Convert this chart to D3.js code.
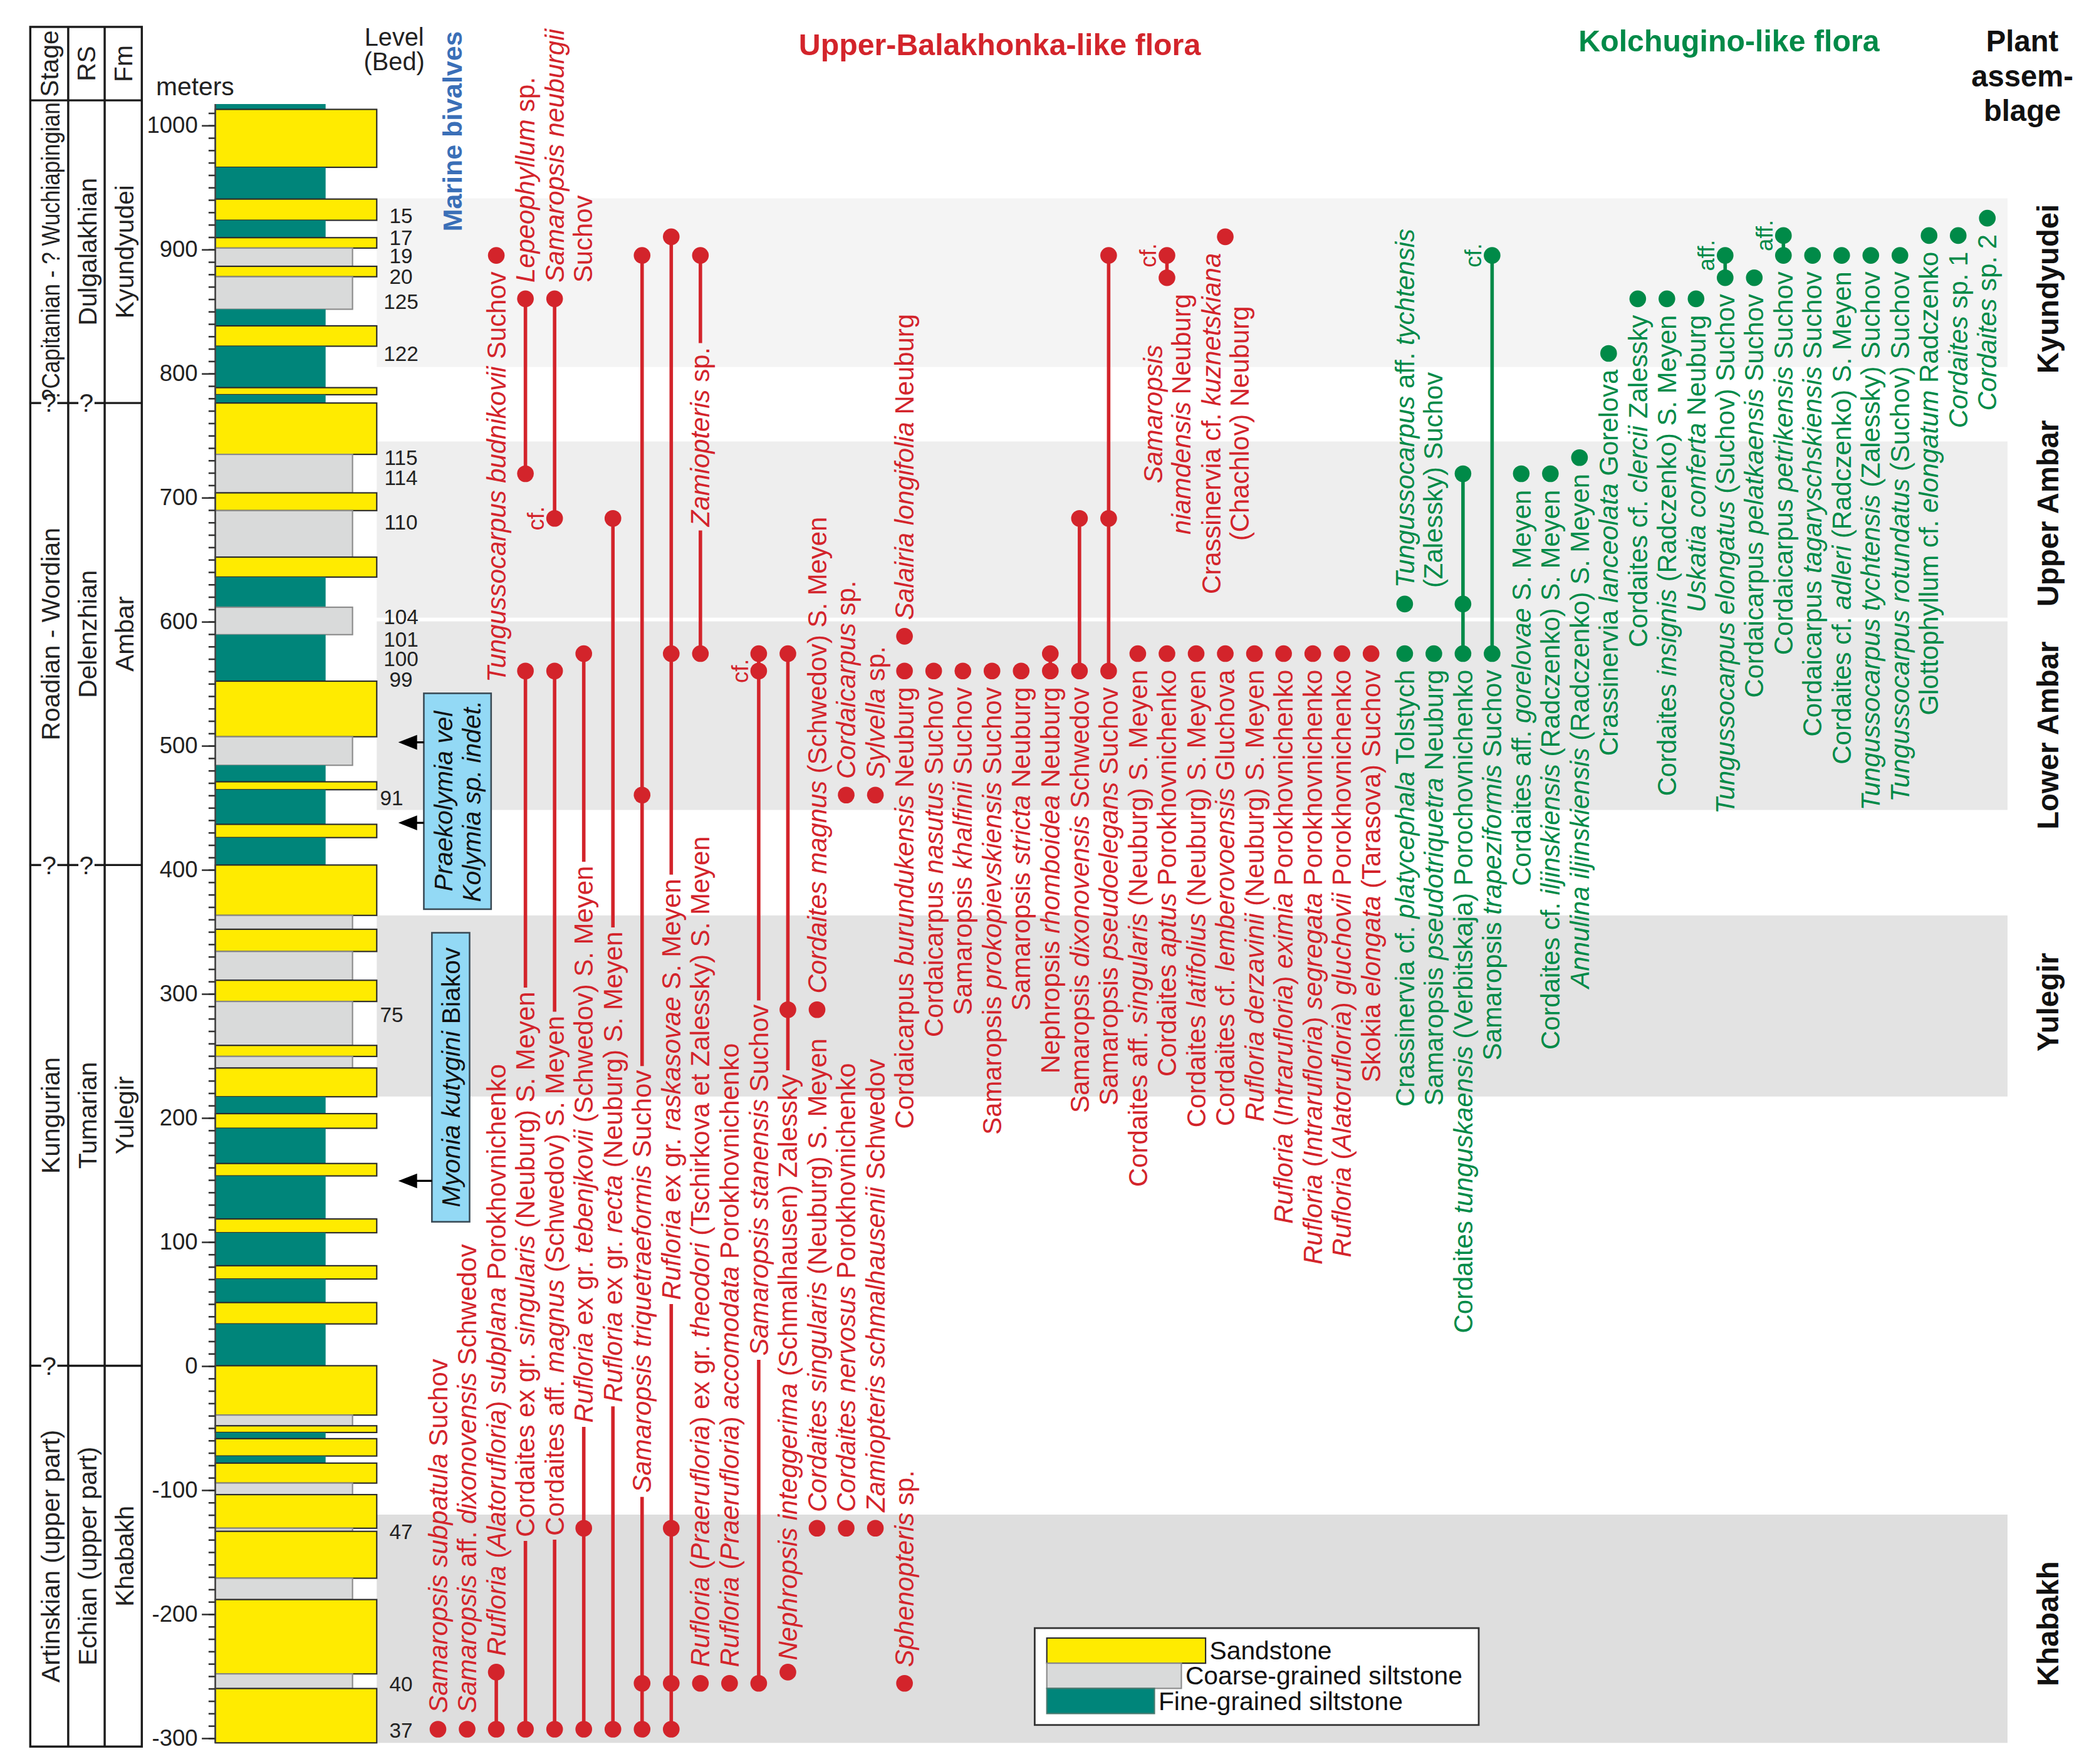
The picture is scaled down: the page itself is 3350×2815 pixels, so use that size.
<!DOCTYPE html>
<html>
<head>
<meta charset="utf-8">
<script src="https://cdn.jsdelivr.net/npm/d3@7"></script>
<style>
  html, body { margin: 0; padding: 0; background: #fff; }
  svg { display: block; font-family: "Liberation Sans", Arial, sans-serif; }
</style>
</head>
<body>
<div id="chart"></div>
<script>
'use strict'

// ---------------- data ----------------

// depth axis (metres)
const depthLabels = d3.range(-300, 1001, 100)
const depthMinor = d3.range(-300, 1011, 10)

// lithology: [top, base, type]  S = sandstone, C = coarse siltstone, F = fine siltstone
const lithology = [
  [1017, 1012.7, 'F'], [1012.7, 966, 'S'], [966, 940.4, 'F'], [940.4, 923.3, 'S'],
  [923.3, 909.3, 'F'], [909.3, 900.9, 'S'], [900.9, 886.2, 'C'], [886.2, 877.8, 'S'],
  [877.8, 851.6, 'C'], [851.6, 838.2, 'F'], [838.2, 821.8, 'S'], [821.8, 788.4, 'F'],
  [788.4, 782.7, 'S'], [782.7, 776, 'F'], [776, 734.6, 'S'], [734.6, 703.6, 'C'],
  [703.6, 689.3, 'S'], [689.3, 651.8, 'C'], [651.8, 635.7, 'S'], [635.7, 611.4, 'F'],
  [611.4, 589.3, 'C'], [589.3, 551.8, 'F'], [551.8, 507, 'S'], [507, 484, 'C'],
  [484, 470.7, 'F'], [470.7, 464.3, 'S'], [464.3, 436.4, 'F'], [436.4, 425.7, 'S'],
  [425.7, 403.6, 'F'], [403.6, 363, 'S'], [363, 351.8, 'C'], [351.8, 333.9, 'S'],
  [333.9, 310.7, 'C'], [310.7, 293.6, 'S'], [293.6, 258.2, 'C'], [258.2, 249.3, 'S'],
  [249.3, 240, 'C'], [240, 216.8, 'S'], [216.8, 203.2, 'F'], [203.2, 191.4, 'S'],
  [191.4, 163, 'F'], [163, 153, 'S'], [153, 118.3, 'F'], [118.3, 107.2, 'S'],
  [107.2, 80.6, 'F'], [80.6, 69.9, 'S'], [69.9, 50.9, 'F'], [50.9, 33.7, 'S'],
  [33.7, 0, 'F'], [0, -39.8, 'S'], [-39.8, -48.4, 'C'], [-48.4, -53.8, 'S'],
  [-53.8, -58.8, 'F'], [-58.8, -72.8, 'S'], [-72.8, -78.5, 'F'], [-78.5, -94.6, 'S'],
  [-94.6, -103.9, 'C'], [-103.9, -131, 'S'], [-131, -133.5, 'C'], [-133.5, -171.3, 'S'],
  [-171.3, -188.5, 'C'], [-188.5, -248.4, 'S'], [-248.4, -260.2, 'C'], [-260.2, -304, 'S']
]
const lithoCodes = ['S', 'C', 'F']
const lithoNames = ['Sandstone', 'Coarse-grained siltstone', 'Fine-grained siltstone']

// beds (levels)
const beds = ['15', '17', '19', '20', '125', '122', '115', '114', '110', '104', '101', '100', '99', '91', '75', '47', '40', '37']
const bedDepths = [926.7, 909.3, 894.4, 877.8, 857.8, 815.6, 732, 716, 680, 603.6, 585.7, 569.6, 552.9, 457.9, 282.9, -133.7, -256.6, -293.9]

// plant assemblages
const assemblages = ['Kyundyudei', 'Upper Ambar', 'Lower Ambar', 'Yulegir', 'Khabakh']
const assemblageTop = [941, 745, 600, 363, -120]
const assemblageBase = [805, 603, 448, 217, -304]
const assemblageLabelAt = [868, 687, 508, 293, -208]

// stratigraphic units (Stage / RS / Fm), bounded by unitBounds
const stages = ['?Capitanian - ? Wuchiapingian', 'Roadian - Wordian', 'Kungurian', 'Artinskian (upper part)']
const regionalStages = ['Dulgalakhian', 'Delenzhian', 'Tumarian', 'Echian (upper part)']
const formations = ['Kyundyudei', 'Ambar', 'Yulegir', 'Khabakh']
const unitBounds = [1020, 776, 403.6, 0, -307]
// uncertain ("?") boundaries per inner bound, for Stage / RS / Fm
const boundaryQuery = [[true, true, false], [true, true, false], [true, false, false]]

// Upper-Balakhonka-like flora: [name (*italic*), column, levels, label]
const redTaxa = [
  ['*Samaropsis subpatula* Suchov', 0, [-293], 'up'],
  ['*Samaropsis* aff. *dixonovensis* Schwedov', 1, [-293], 'up'],
  ['*Rufloria* (*Alatorufloria*) *subplana* Porokhovnichenko', 2, [-293, -247], 'up'],
  ['*Tungussocarpus budnikovii* Suchov', 2, [895], 'down'],
  ['Cordaites ex gr. *singularis* (Neuburg) S. Meyen', 3, [-293, 560], 'inline'],
  ['*Lepeophyllum* sp.', 3, [719, 860], 'up'],
  ['Cordaites aff. *magnus* (Schwedov) S. Meyen', 4, [-293, 560], 'inline'],
  ['*Samaropsis neuburgii*\nSuchov', 4, [683, 860], 'up'],
  ['*Rufloria* ex gr. *tebenjkovii* (Schwedov) S. Meyen', 5, [-293, -131, 574], 'inline'],
  ['*Rufloria* ex gr. *recta* (Neuburg) S. Meyen', 6, [-293, 683], 'inline'],
  ['*Samaropsis triquetraeformis* Suchov', 7, [-293, -256, 460, 895], 'inline'],
  ['*Rufloria* ex gr. *raskasovae* S. Meyen', 8, [-293, -256, -131, 574, 910], 'inline'],
  ['*Rufloria* (*Praerufloria*) ex gr. *theodori* (Tschirkova et Zalessky) S. Meyen', 9, [-256], 'up'],
  ['*Zamiopteris* sp.', 9, [574, 895], 'inline'],
  ['*Rufloria* (*Praerufloria*) *accomodata* Porokhovnichenko', 10, [-256], 'up'],
  ['*Samaropsis stanensis* Suchov', 11, [-256, 560, 574], 'inline'],
  ['*Nephropsis integgerima* (Schmalhausen) Zalessky', 12, [-247, 287, 574], 'inline'],
  ['*Cordaites singularis* (Neuburg) S. Meyen', 13, [-131], 'up'],
  ['*Cordaites magnus* (Schwedov) S. Meyen', 13, [287], 'up'],
  ['*Cordaites nervosus* Porokhovnichenko', 14, [-131], 'up'],
  ['*Cordaicarpus* sp.', 14, [460], 'up'],
  ['*Zamiopteris schmalhausenii* Schwedov', 15, [-131], 'up'],
  ['*Sylvella* sp.', 15, [460], 'up'],
  ['*Sphenopteris* sp.', 16, [-256], 'up'],
  ['Cordaicarpus *burundukensis* Neuburg', 16, [560], 'down'],
  ['*Salairia longifolia* Neuburg', 16, [588], 'up'],
  ['Cordaicarpus *nasutus* Suchov', 17, [560], 'down'],
  ['Samaropsis *khalfinii* Suchov', 18, [560], 'down'],
  ['Samaropsis *prokopievskiensis* Suchov', 19, [560], 'down'],
  ['Samaropsis *stricta* Neuburg', 20, [560], 'down'],
  ['Nephropsis *rhomboidea* Neuburg', 21, [560, 574], 'down'],
  ['Samaropsis *dixonovensis* Schwedov', 22, [560, 683], 'down'],
  ['Samaropsis *pseudoelegans* Suchov', 23, [560, 683, 895], 'down'],
  ['Cordaites aff. *singularis* (Neuburg) S. Meyen', 24, [574], 'down'],
  ['Cordaites *aptus* Porokhovnichenko', 25, [574], 'down'],
  ['*Samaropsis*\n*niamdensis* Neuburg', 25, [877, 895], 'down'],
  ['Cordaites *latifolius* (Neuburg) S. Meyen', 26, [574], 'down'],
  ['Cordaites cf. *lemberovoensis* Gluchova', 27, [574], 'down'],
  ['Crassinervia cf. *kuznetskiana*\n(Chachlov) Neuburg', 27, [910], 'down'],
  ['*Rufloria derzavinii* (Neuburg) S. Meyen', 28, [574], 'down'],
  ['*Rufloria* (*Intrarufloria*) *eximia* Porokhovnichenko', 29, [574], 'down'],
  ['*Rufloria* (*Intrarufloria*) *segregata* Porokhovnichenko', 30, [574], 'down'],
  ['*Rufloria* (*Alatorufloria*) *gluchovii* Porokhovnichenko', 31, [574], 'down'],
  ['Skokia *elongata* (Tarasova) Suchov', 32, [574], 'down']
]

// Kolchugino-like flora
const greenTaxa = [
  ['Crassinervia cf. *platycephala* Tolstych', 33, [574], 'down'],
  ['*Tungussocarpus* aff. *tychtensis*\n(Zalessky) Suchov', 33, [614], 'up'],
  ['Samaropsis *pseudotriquetra* Neuburg', 34, [574], 'down'],
  ['Cordaites *tunguskaensis* (Verbitskaja) Porochovnichenko', 35, [574, 614, 719], 'down'],
  ['Samaropsis *trapeziformis* Suchov', 36, [574, 895], 'down'],
  ['Cordaites aff. *gorelovae* S. Meyen', 37, [719], 'down'],
  ['Cordaites cf. *iljinskiensis* (Radczenko) S. Meyen', 38, [719], 'down'],
  ['*Annulina iljinskiensis* (Radczenko) S. Meyen', 39, [732], 'down'],
  ['Crassinervia *lanceolata* Gorelova', 40, [816], 'down'],
  ['Cordaites cf. *clercii* Zalessky', 41, [860], 'down'],
  ['Cordaites *insignis* (Radczenko) S. Meyen', 42, [860], 'down'],
  ['*Uskatia conferta* Neuburg', 43, [860], 'down'],
  ['*Tungussocarpus elongatus* (Suchov) Suchov', 44, [877, 895], 'down'],
  ['Cordaicarpus *pelatkaensis* Suchov', 45, [877], 'down'],
  ['Cordaicarpus *petrikensis* Suchov', 46, [895, 911], 'down'],
  ['Cordaicarpus *tagaryschskiensis* Suchov', 47, [895], 'down'],
  ['Cordaites cf. *adleri* (Radczenko) S. Meyen', 48, [895], 'down'],
  ['*Tungussocarpus tychtensis* (Zalessky) Suchov', 49, [895], 'down'],
  ['*Tungussocarpus rotundatus* (Suchov) Suchov', 50, [895], 'down'],
  ['Glottophyllum cf. *elongatum* Radczenko', 51, [911], 'down'],
  ['*Cordaites* sp. 1', 52, [911], 'down'],
  ['*Cordaites* sp. 2', 53, [925], 'down']
]

// where inline labels begin (column -> metres)
const inlineStart = new Map([[3, -138], [4, -137], [5, -46], [6, -29.5], [7, -102.5], [8, 53], [9, 676.5], [11, 8], [12, -237.5]])

// open-nomenclature marks next to single occurrences: [text, column, level]
const qualifiers = [['cf.', 4, 683], ['cf.', 11, 560], ['cf.', 25, 895], ['cf.', 36, 895], ['aff.', 44, 895], ['aff.', 46, 911]]

// marine bivalves
const bivalveNames = [['*Praekolymia vel*', '*Kolymia sp. indet.*'], ['*Myonia kutygini* Biakov']]
const bivalveTop = [542, 349]
const bivalveBase = [368, 116]
const bivalveArrows = [[502.5, 437.6], [149]]

// ---------------- drawing ----------------

const W = 1560, H = 1311
const RED = '#d3242b', GREEN = '#008a48', BLUE = '#3a6fb7'

const svg = d3.select('#chart').append('svg')
  .attr('width', 3350).attr('height', 2815)
  .attr('viewBox', `0 0 ${W} ${H}`)
  .attr('preserveAspectRatio', 'none')

const y = d3.scaleLinear().domain([1000, -300]).range([93, 1291.6])
const redX = d3.scaleLinear().domain([0, 32]).range([325.5, 1019])
const greenX = d3.scaleLinear().domain([33, 53]).range([1044, 1477])
const xCol = c => c < 33 ? redX(c) : greenX(c)

const colLeft = 160
const lithoWidth = d3.scaleOrdinal().domain(lithoCodes).range([120, 102, 82])
const lithoFill = d3.scaleOrdinal().domain(lithoCodes).range(['#ffeb00', '#d9dada', '#00857a'])
const lithoStroke = d3.scaleOrdinal().domain(lithoCodes).range(['#2a2a2a', '#8c8c8c', 'none'])

// rich text: *...* parts in italic
function rich(sel, str) {
  str.split('*').forEach((part, k) => {
    if (part) sel.append('tspan').attr('font-style', k % 2 ? 'italic' : 'normal').text(part)
  })
}
function vtext(parent, x, yy, anchor, size) {
  return parent.append('text')
    .attr('transform', `translate(${x},${yy}) rotate(-90)`)
    .attr('text-anchor', anchor)
    .attr('dy', '0.35em')
    .attr('font-size', size)
}

// assemblage bands
const bandFill = ['#f4f4f4', '#eeeeee', '#e8e8e8', '#e3e3e3', '#dedede']
svg.append('g').selectAll('rect').data(assemblages).join('rect')
  .attr('x', 280).attr('width', 1492 - 280)
  .attr('y', (d, i) => y(assemblageTop[i]))
  .attr('height', (d, i) => y(assemblageBase[i]) - y(assemblageTop[i]))
  .attr('fill', (d, i) => bandFill[i])

// lithological column
svg.append('g').selectAll('rect').data(lithology).join('rect')
  .attr('x', colLeft)
  .attr('y', d => y(d[0]))
  .attr('width', d => lithoWidth(d[2]))
  .attr('height', d => y(d[1]) - y(d[0]))
  .attr('fill', d => lithoFill(d[2]))
  .attr('stroke', d => lithoStroke(d[2]))
  .attr('stroke-width', 1)
svg.append('line')
  .attr('x1', colLeft).attr('x2', colLeft)
  .attr('y1', y(1017)).attr('y2', y(-304))
  .attr('stroke', '#444').attr('stroke-width', 1.2)

// depth axis
const minorAxis = svg.append('g').attr('transform', `translate(${colLeft},0)`)
  .call(d3.axisLeft(y).tickValues(depthMinor).tickSize(5).tickFormat(''))
minorAxis.selectAll('text').remove()
const majorAxis = svg.append('g').attr('transform', `translate(${colLeft},0)`)
  .call(d3.axisLeft(y).tickValues(depthLabels).tickSize(10).tickPadding(3).tickFormat(d => String(d)))
svg.selectAll('.domain').remove()
svg.selectAll('.tick line').attr('stroke', '#333').attr('stroke-width', 1.2)
majorAxis.selectAll('text').attr('font-size', 17).attr('fill', '#222')
  .attr('font-family', '"Liberation Sans", Arial, sans-serif')
svg.append('text').attr('x', 145).attr('y', 71).attr('text-anchor', 'middle')
  .attr('font-size', 19).attr('fill', '#222').text('meters')

// stratigraphic table
const tableX = [22.5, 50.7, 77.8, 105.4]
const tableTop = 20, headTop = y(unitBounds[0]), tableBase = y(unitBounds[4])
const table = svg.append('g').attr('stroke', '#1a1a1a').attr('stroke-width', 1.6).attr('fill', 'none')
table.append('rect').attr('x', tableX[0]).attr('y', tableTop)
  .attr('width', tableX[3] - tableX[0]).attr('height', tableBase - tableTop)
tableX.slice(1, 3).forEach(x => table.append('line').attr('x1', x).attr('x2', x).attr('y1', tableTop).attr('y2', tableBase))
table.append('line').attr('x1', tableX[0]).attr('x2', tableX[3]).attr('y1', headTop).attr('y2', headTop)

const headers = ['Stage', 'RS', 'Fm']
headers.forEach((h, c) => {
  vtext(svg, (tableX[c] + tableX[c + 1]) / 2, (tableTop + headTop) / 2, 'middle', 19).attr('fill', '#222').text(h)
})
const unitCols = [stages, regionalStages, formations]
unitCols.forEach((units, c) => {
  units.forEach((u, k) => {
    const t = vtext(svg, (tableX[c] + tableX[c + 1]) / 2 + 1, (y(unitBounds[k]) + y(unitBounds[k + 1])) / 2, 'middle', 19)
      .attr('fill', '#222').text(u)
    if (c === 0 && k === 0) t.attr('textLength', 222).attr('lengthAdjust', 'spacingAndGlyphs')
  })
})
boundaryQuery.forEach((q, b) => {
  const yy = y(unitBounds[b + 1])
  q.forEach((isQ, c) => {
    const x0 = tableX[c], x1 = tableX[c + 1], cx = (x0 + x1) / 2
    if (isQ) {
      table.append('line').attr('x1', x0).attr('x2', cx - 6).attr('y1', yy).attr('y2', yy)
      table.append('line').attr('x1', cx + 6).attr('x2', x1).attr('y1', yy).attr('y2', yy)
      svg.append('text').attr('x', cx).attr('y', yy).attr('dy', '0.35em').attr('text-anchor', 'middle')
        .attr('font-size', 19).attr('fill', '#222').text('?')
    } else {
      table.append('line').attr('x1', x0).attr('x2', x1).attr('y1', yy).attr('y2', yy)
    }
  })
})

// bed numbers
svg.append('text').attr('x', 293).attr('y', 34).attr('text-anchor', 'middle').attr('font-size', 18.5).attr('fill', '#222').text('Level')
svg.append('text').attr('x', 293).attr('y', 52).attr('text-anchor', 'middle').attr('font-size', 18.5).attr('fill', '#222').text('(Bed)')
svg.append('g').selectAll('text').data(beds).join('text')
  .attr('x', d => (d === '91' || d === '75') ? 291 : 298)
  .attr('y', (d, i) => y(bedDepths[i])).attr('dy', '0.35em')
  .attr('text-anchor', 'middle').attr('font-size', 15.5).attr('fill', '#222')
  .text(d => d)

// taxa
const taxaLayer = svg.append('g')
const lineLayer = taxaLayer.append('g')
const dotLayer = taxaLayer.append('g')
const labelLayer = taxaLayer.append('g')
const FS = 19.5, GAP = 12, LINE_STEP = 21

function drawTaxon(t, color) {
  const [name, col, levels, mode] = t
  const x = xCol(col)
  const ys = levels.map(v => y(v))
  const yTop = d3.min(ys), yBot = d3.max(ys)
  const lines = name.split('\n')

  if (mode === 'inline') {
    const ys0 = y(inlineStart.get(col))
    const txt = vtext(labelLayer, x, ys0, 'start', FS).attr('fill', color)
    rich(txt, name)
    const len = txt.node().getComputedTextLength()
    lineLayer.append('line').attr('x1', x).attr('x2', x).attr('y1', yBot).attr('y2', ys0 + 3)
      .attr('stroke', color).attr('stroke-width', 2.6)
    lineLayer.append('line').attr('x1', x).attr('x2', x).attr('y1', ys0 - len - 3).attr('y2', yTop)
      .attr('stroke', color).attr('stroke-width', 2.6)
  } else {
    if (levels.length > 1) {
      lineLayer.append('line').attr('x1', x).attr('x2', x).attr('y1', yBot).attr('y2', yTop)
        .attr('stroke', color).attr('stroke-width', 2.6)
    }
    if (mode === 'up') {
      lines.forEach((ln, k) => {
        rich(vtext(labelLayer, x + k * LINE_STEP, yTop - GAP, 'start', FS).attr('fill', color), ln)
      })
    } else if (lines.length === 1) {
      rich(vtext(labelLayer, x, yBot + GAP, 'end', FS).attr('fill', color), name)
    } else {
      const texts = lines.map((ln, k) => {
        const tx = vtext(labelLayer, x + (k - (lines.length - 1) / 2) * LINE_STEP, 0, 'middle', FS).attr('fill', color)
        rich(tx, ln)
        return tx
      })
      const maxLen = d3.max(texts, tx => tx.node().getComputedTextLength())
      const cy = yBot + GAP + maxLen / 2
      texts.forEach((tx, k) => tx.attr('transform', `translate(${x + (k - (lines.length - 1) / 2) * LINE_STEP},${cy}) rotate(-90)`))
    }
  }
  dotLayer.selectAll(null).data(levels).join('circle')
    .attr('cx', x).attr('cy', d => y(d)).attr('r', 6.2).attr('fill', color)
}
redTaxa.forEach(t => drawTaxon(t, RED))
greenTaxa.forEach(t => drawTaxon(t, GREEN))

qualifiers.forEach(([txt, col, lev]) => {
  vtext(labelLayer, xCol(col) - 14, y(lev), 'middle', 17).attr('fill', col < 33 ? RED : GREEN).text(txt)
})

// marine bivalves
vtext(svg, 336, 172, 'start', 20).attr('font-weight', 'bold').attr('fill', BLUE).text('Marine bivalves')
bivalveNames.forEach((lines, i) => {
  const n = lines.length
  const x0 = n === 2 ? 315 : 321, w = n === 2 ? 50 : 28
  const y0 = y(bivalveTop[i]), y1 = y(bivalveBase[i])
  svg.append('rect').attr('x', x0).attr('y', y0).attr('width', w).attr('height', y1 - y0)
    .attr('fill', '#93d9f5').attr('stroke', '#3a4a55').attr('stroke-width', 1.2)
  lines.forEach((ln, k) => {
    rich(vtext(svg, x0 + w / 2 + (k - (n - 1) / 2) * 21, (y0 + y1) / 2, 'middle', 19).attr('fill', '#111'), ln)
  })
  bivalveArrows[i].forEach(a => {
    const ya = y(a)
    svg.append('line').attr('x1', 305).attr('x2', x0).attr('y1', ya).attr('y2', ya).attr('stroke', '#000').attr('stroke-width', 1.5)
    svg.append('path').attr('d', `M296,${ya} L310,${ya - 5.5} L310,${ya + 5.5} Z`).attr('fill', '#000')
  })
})

// titles
svg.append('text').attr('x', 743).attr('y', 41).attr('text-anchor', 'middle')
  .attr('font-size', 22.5).attr('font-weight', 'bold').attr('fill', RED).text('Upper-Balakhonka-like flora')
svg.append('text').attr('x', 1285).attr('y', 38).attr('text-anchor', 'middle')
  .attr('font-size', 22.5).attr('font-weight', 'bold').attr('fill', GREEN).text('Kolchugino-like flora')
const plantHead = ['Plant', 'assem-', 'blage']
svg.append('g').selectAll('text').data(plantHead).join('text')
  .attr('x', 1503).attr('y', (d, i) => 30.7 + i * 25.7).attr('dy', '0.35em')
  .attr('text-anchor', 'middle').attr('font-size', 22).attr('font-weight', 'bold').attr('fill', '#111')
  .text(d => d)

// assemblage names
assemblages.forEach((a, i) => {
  vtext(svg, 1522, y(assemblageLabelAt[i]), 'middle', 22).attr('font-weight', 'bold').attr('fill', '#111').text(a)
})

// legend
const legend = svg.append('g')
legend.append('rect').attr('x', 769).attr('y', 1210).attr('width', 330).attr('height', 72)
  .attr('fill', '#fff').attr('stroke', '#333').attr('stroke-width', 1.3)
lithoCodes.forEach((c, k) => {
  const yy = 1217.4 + k * 18.7
  const w = lithoWidth(c) - 2
  legend.append('rect').attr('x', 778).attr('y', yy).attr('width', w).attr('height', 18.7)
    .attr('fill', lithoFill(c)).attr('stroke', c === 'F' ? '#4a7a70' : lithoStroke(c)).attr('stroke-width', 1)
  legend.append('text').attr('x', 778 + w + 3).attr('y', yy + 9.3).attr('dy', '0.35em')
    .attr('font-size', 19).attr('fill', '#111').text(lithoNames[k])
})
</script>
</body>
</html>
